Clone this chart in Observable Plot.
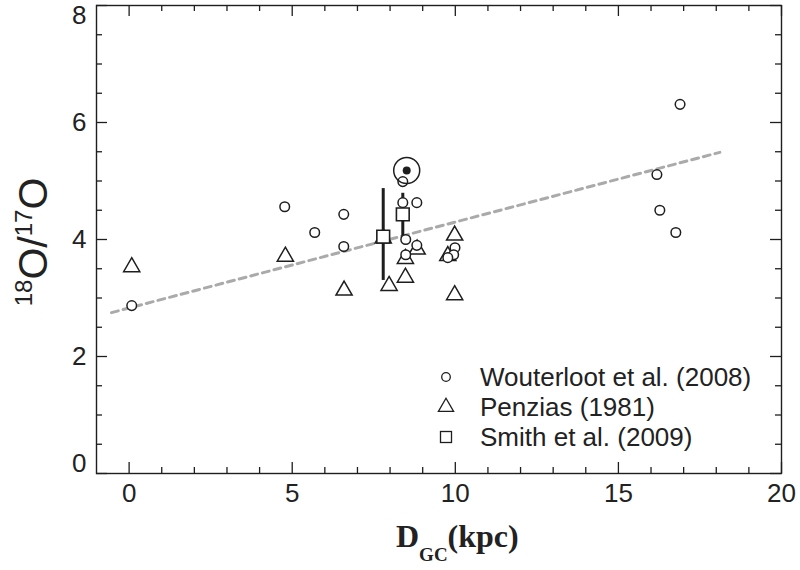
<!DOCTYPE html>
<html><head><meta charset="utf-8">
<script src="https://cdn.jsdelivr.net/npm/d3@7"></script>
<script src="https://cdn.jsdelivr.net/npm/@observablehq/plot@0.6"></script>
<style>
body{margin:0;background:#fff;}
#wrap{position:relative;width:800px;height:570px;}
#overlay{position:absolute;left:0;top:0;pointer-events:none;}
</style></head><body><div id="wrap"></div>
<script>
// ---- data ----
const wouterlootX = [0.08, 4.77, 5.69, 6.58, 6.58, 8.39, 8.39, 8.82, 8.48, 8.82, 8.48, 9.99, 9.95, 9.77, 16.89, 16.18, 16.27, 16.76];
const wouterlootY = [2.87, 4.56, 4.12, 4.43, 3.88, 4.99, 4.63, 4.63, 4.00, 3.90, 3.74, 3.86, 3.74, 3.69, 6.31, 5.11, 4.50, 4.12];
const penziasX = [0.08, 4.79, 6.59, 7.97, 8.47, 8.47, 8.83, 9.98, 9.98, 9.77, 7.79];
const penziasY = [3.53, 3.71, 3.13, 3.21, 3.35, 3.67, 3.83, 4.07, 3.05, 3.72, 4.02];
const smithX = [7.79, 8.39];
const smithY = [4.05, 4.43];
const smithLo = [3.30, 3.98];
const smithHi = [4.87, 4.79];
const sunX = [8.51];
const sunY = [5.18];
const trendX = [-0.54, 18.11];
const trendY = [2.75, 5.49];
const xMajorTicks = [0, 5, 10, 15, 20];
const xMinorTicks = [1, 2, 3, 4, 6, 7, 8, 9, 11, 12, 13, 14, 16, 17, 18, 19];
const yMajorTicks = [0, 2, 4, 6, 8];
const yMinorTicks = [0.5, 1, 1.5, 2.5, 3, 3.5, 4.5, 5, 5.5, 6.5, 7, 7.5];
const yLabelsMid = [2, 4, 6];
const legendLabels = ["Wouterloot et al. (2008)", "Penzias (1981)", "Smith et al. (2009)"];

const wouterloot = wouterlootX.map((x, i) => ({x, y: wouterlootY[i]}));
const penzias = penziasX.map((x, i) => ({x, y: penziasY[i]}));
const smith = smithX.map((x, i) => ({x, y: smithY[i], lo: smithLo[i], hi: smithHi[i]}));
const sun = sunX.map((x, i) => ({x, y: sunY[i]}));
const trend = trendX.map((x, i) => ({x, y: trendY[i]}));

const W = 800, H = 570, mL = 96, mR = 19, mT = 5, mB = 97;
const fW = W - mL - mR, fH = H - mT - mB;
const ink = "#1e1e1e";
const font = "Liberation Sans, Arial, sans-serif";
const tickFont = 26;

const chart = Plot.plot({
  width: W, height: H,
  marginLeft: mL, marginRight: mR, marginTop: mT, marginBottom: mB,
  style: {fontFamily: font, color: "#222", background: "white"},
  x: {domain: [-1, 20], axis: null},
  y: {domain: [0, 8], axis: null},
  marks: [
    Plot.line(trend, {x: "x", y: "y", stroke: "#aaaaaa", strokeWidth: 3, strokeDasharray: "7,5"}),
    // ticks (inward, all four sides)
    Plot.tickX(xMajorTicks, {x: d => d, insetTop: fH - 11, stroke: ink, strokeWidth: 1.3}),
    Plot.tickX(xMinorTicks, {x: d => d, insetTop: fH - 6, stroke: ink, strokeWidth: 1.3}),
    Plot.tickX(xMajorTicks, {x: d => d, insetBottom: fH - 11, stroke: ink, strokeWidth: 1.3}),
    Plot.tickX(xMinorTicks, {x: d => d, insetBottom: fH - 6, stroke: ink, strokeWidth: 1.3}),
    Plot.tickY(yMajorTicks, {y: d => d, insetRight: fW - 11, stroke: ink, strokeWidth: 1.3}),
    Plot.tickY(yMinorTicks, {y: d => d, insetRight: fW - 6, stroke: ink, strokeWidth: 1.3}),
    Plot.tickY(yMajorTicks, {y: d => d, insetLeft: fW - 11, stroke: ink, strokeWidth: 1.3}),
    Plot.tickY(yMinorTicks, {y: d => d, insetLeft: fW - 6, stroke: ink, strokeWidth: 1.3}),
    Plot.frame({stroke: ink, strokeWidth: 1.4}),
    // tick labels
    Plot.text(xMajorTicks, {x: d => d, frameAnchor: "bottom", dy: 28, text: d => String(d), fontSize: tickFont, fill: "#222"}),
    Plot.text(yLabelsMid, {y: d => d, frameAnchor: "left", dx: -10, textAnchor: "end", text: d => String(d), fontSize: tickFont, fill: "#222"}),
    Plot.text([8], {y: d => d, frameAnchor: "left", dx: -10, dy: 10, textAnchor: "end", text: d => String(d), fontSize: tickFont, fill: "#222"}),
    Plot.text([0], {y: d => d, frameAnchor: "left", dx: -10, dy: -10, textAnchor: "end", text: d => String(d), fontSize: tickFont, fill: "#222"}),
    // error bars
    Plot.ruleX(smith, {x: "x", y1: "lo", y2: "hi", stroke: ink, strokeWidth: 3}),
    // data
    Plot.dot(penzias, {x: "x", y: "y", symbol: "triangle", r: 6.0, stroke: ink, strokeWidth: 1.5, fill: "white"}),
    Plot.dot(wouterloot, {x: "x", y: "y", symbol: "circle", r: 4.8, stroke: ink, strokeWidth: 1.5, fill: "white"}),
    Plot.dot(smith, {x: "x", y: "y", symbol: "square", r: 7.2, stroke: ink, strokeWidth: 1.6, fill: "white"}),
    Plot.dot(sun, {x: "x", y: "y", r: 13, stroke: ink, strokeWidth: 1.5, fill: "none"}),
    Plot.dot(sun, {x: "x", y: "y", r: 4, fill: ink, stroke: "none"})
  ]
});
document.getElementById("wrap").appendChild(chart);

// overlay: axis titles and legend
const ov = d3.select("#wrap").append("svg").attr("id", "overlay").attr("width", W).attr("height", H);
// y title
const yt = ov.append("text")
  .attr("transform", "translate(47,242) rotate(-90)")
  .attr("text-anchor", "middle")
  .attr("font-family", font).attr("font-size", 41).attr("fill", "#222");
yt.append("tspan").attr("font-size", 24).attr("dy", -15).text("18");
yt.append("tspan").attr("dy", 15).text("O/");
yt.append("tspan").attr("font-size", 24).attr("dy", -15).text("17");
yt.append("tspan").attr("dy", 15).text("O");
// x title
const xt = ov.append("text")
  .attr("x", 396).attr("y", 547)
  .attr("font-family", "Liberation Serif, Times New Roman, serif").attr("font-weight", "bold")
  .attr("font-size", 32).attr("fill", "#222");
xt.append("tspan").text("D");
xt.append("tspan").attr("font-size", 19).attr("dy", 14).text("GC");
xt.append("tspan").attr("dy", -14).text("(kpc)");

// legend
const legendY = [377, 407, 437];
const legX = 446;
const lg = ov.append("g");
lg.append("circle").attr("cx", legX).attr("cy", legendY[0]).attr("r", 4.3).attr("fill", "none").attr("stroke", ink).attr("stroke-width", 1.3);
lg.append("path").attr("d", d3.symbol(d3.symbolTriangle, 100)()).attr("transform", `translate(${legX},${legendY[1]})`).attr("fill", "none").attr("stroke", ink).attr("stroke-width", 1.3);
lg.append("rect").attr("x", legX - 5.5).attr("y", legendY[2] - 5.5).attr("width", 11).attr("height", 11).attr("fill", "none").attr("stroke", ink).attr("stroke-width", 1.3);
legendLabels.forEach((t, i) => {
  lg.append("text").attr("x", 480).attr("y", legendY[i]).attr("dy", "0.35em")
    .attr("font-family", font).attr("font-size", 26).attr("fill", "#222").text(t);
});
</script>
</body></html>
